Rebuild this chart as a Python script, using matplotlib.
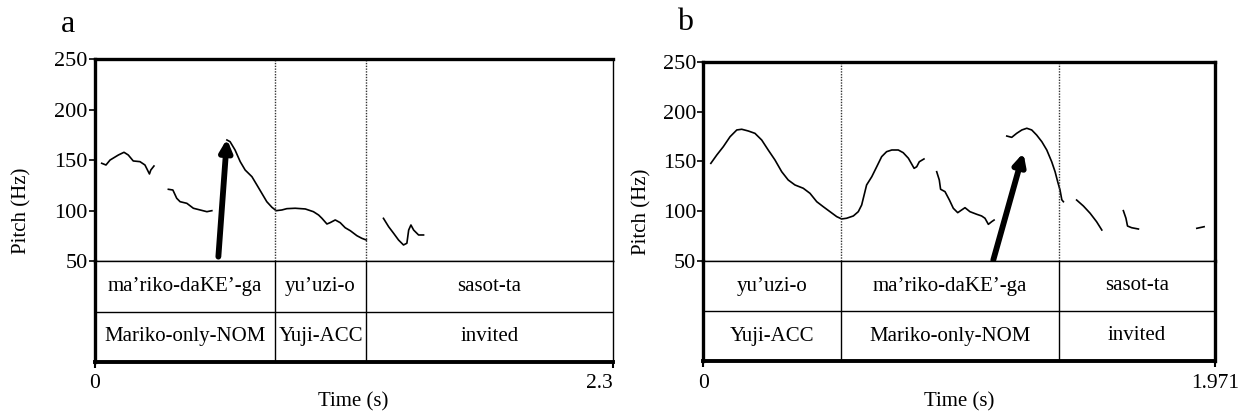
import matplotlib.pyplot as plt

plt.rcParams['font.family'] = ['Liberation Serif', 'DejaVu Serif']

W, H = 1246, 418

# ---- panel a ----
a_dur = 2.3
a_bounds = [0, 0.801, 1.206, 2.3]
a_words = ['ma’riko-daKE’-ga', 'yu’uzi-o', 'sasot-ta']
a_gloss = ['Mariko-only-NOM', 'Yuji-ACC', 'invited']
a_time = [
    [0.032, 0.051, 0.069, 0.106, 0.131, 0.150, 0.172, 0.202, 0.224, 0.244, 0.250, 0.264],
    [0.328, 0.348, 0.365, 0.380, 0.410, 0.439, 0.469, 0.499, 0.521],
    [0.588, 0.602, 0.624, 0.647, 0.669, 0.699, 0.721, 0.743, 0.765, 0.788, 0.807, 0.832,
     0.854, 0.891, 0.936, 0.972, 0.995, 1.010, 1.032, 1.046, 1.069, 1.091, 1.113, 1.136,
     1.165, 1.187, 1.207],
    [1.283, 1.306, 1.328, 1.350, 1.372, 1.387, 1.395, 1.405, 1.417, 1.439, 1.461],
]
a_pitch = [
    [146.9, 145.2, 150.1, 155.1, 157.8, 155.1, 149.2, 148.5, 145.2, 136.3, 140.2, 144.2],
    [121.1, 120.4, 112.2, 108.8, 107.2, 102.3, 100.6, 98.9, 99.9],
    [170.0, 168.3, 160.1, 148.5, 140.2, 133.6, 125.4, 117.1, 108.8, 103.2, 99.9, 100.6,
     101.9, 102.3, 101.6, 98.9, 95.6, 92.3, 86.7, 88.0, 90.7, 88.0, 83.0, 80.0,
     75.1, 72.5, 70.8],
    [92.3, 84.0, 77.5, 70.8, 65.9, 67.6, 80.7, 85.7, 80.7, 75.8, 75.8],
]
a_arrow = [(0.550, 54.3), (0.588, 171.0)]

# ---- panel b ----
b_dur = 1.971
b_bounds = [0, 0.529, 1.369, 1.971]
b_words = ['yu’uzi-o', 'ma’riko-daKE’-ga', 'sasot-ta']
b_gloss = ['Yuji-ACC', 'Mariko-only-NOM', 'invited']
b_time = [
    [0.029, 0.052, 0.077, 0.103, 0.129, 0.148, 0.173, 0.199, 0.225, 0.250, 0.276, 0.302,
     0.327, 0.353, 0.385, 0.411, 0.437, 0.462, 0.488, 0.514, 0.533, 0.552, 0.578, 0.597,
     0.610, 0.629, 0.649, 0.668, 0.687, 0.706, 0.726, 0.751, 0.770, 0.790, 0.812, 0.822,
     0.832, 0.850],
    [0.899, 0.909, 0.914, 0.931, 0.948, 0.963, 0.980, 0.995, 1.008, 1.027, 1.053, 1.072,
     1.085, 1.098, 1.111, 1.120],
    [1.169, 1.188, 1.207, 1.227, 1.246, 1.265, 1.284, 1.304, 1.323, 1.342, 1.355, 1.365,
     1.374, 1.381, 1.387],
    [1.438, 1.464, 1.490, 1.515, 1.535],
    [1.618, 1.628, 1.634, 1.650, 1.676],
    [1.901, 1.929],
]
b_pitch = [
    [148.0, 156.4, 164.7, 174.7, 181.5, 182.2, 180.5, 178.1, 171.4, 161.4, 151.4, 139.6,
     131.3, 126.3, 123.0, 117.9, 109.5, 104.5, 99.5, 94.5, 92.2, 92.9, 95.2, 99.5,
     106.2, 126.3, 134.6, 144.6, 154.7, 159.7, 161.4, 161.4, 158.7, 153.1, 143.0, 144.6,
     149.6, 152.4],
    [139.6, 131.3, 122.0, 119.6, 111.2, 102.9, 98.5, 101.2, 103.5, 99.5, 96.9, 95.2,
     92.9, 86.8, 89.5, 91.1],
    [175.4, 174.1, 178.1, 181.5, 183.2, 181.5, 176.4, 169.7, 161.4, 149.6, 139.6, 129.6,
     121.3, 111.4, 109.5],
    [111.2, 105.2, 97.9, 89.4, 81.1],
    [100.5, 92.9, 85.1, 83.4, 82.1],
    [82.8, 84.4],
]
b_arrow = [(1.117, 51.0), (1.233, 158.5)]


def box(x0, y0, x1, y1):
    # pixel box -> figure fraction rect
    return [x0 / W, 1 - y1 / H, (x1 - x0) / W, (y1 - y0) / H]


def draw_panel(fig, x0, x1, ytop, y50, ybot, dur, bounds, words, gloss,
               times, pitches, arrow, right_lw, label, label_xy, ylab_x, end_ha):
    ax = fig.add_axes(box(x0, ytop, x1, y50))
    tier = fig.add_axes(box(x0, y50, x1, ybot))

    for t, p in zip(times, pitches):
        ax.plot(t, p, color='black', lw=1.2)
    for b in bounds[1:-1]:
        ax.axvline(b, color='#333333', lw=1.0, ls=(0, (1, 1)))
    ax.annotate('', xy=arrow[1], xytext=arrow[0],
                arrowprops=dict(arrowstyle='-|>,head_length=0.7,head_width=0.35',
                                lw=4.2, color='black', shrinkA=0, shrinkB=0))

    ax.set_xlim(0, dur)
    ax.set_ylim(50, 250)
    ax.set_yticks([50, 100, 150, 200, 250])
    ax.set_xticks([])
    ax.tick_params(axis='y', direction='out', length=4.5, width=1.2,
                   labelsize=16, pad=0.5)
    ax.spines['left'].set_linewidth(2.4)
    ax.spines['top'].set_linewidth(2.4)
    ax.spines['right'].set_linewidth(right_lw)
    ax.spines['bottom'].set_linewidth(1.0)

    tier.set_xlim(0, dur)
    tier.set_ylim(0, 2)
    tier.axhline(1, color='black', lw=1.0)
    for b in bounds[1:-1]:
        tier.axvline(b, color='black', lw=1.0)
    for i in range(len(words)):
        mid = (bounds[i] + bounds[i + 1]) / 2
        tier.text(mid, 1.5, words[i], ha='center', va='center', fontsize=15)
        tier.text(mid, 0.5, gloss[i], ha='center', va='center', fontsize=15)
    tier.set_yticks([])
    tier.set_xticks([0, dur])
    tier.set_xticklabels(['0', str(dur)])
    tier.get_xticklabels()[-1].set_ha(end_ha)
    tier.tick_params(axis='x', direction='out', length=4, width=1.5,
                     labelsize=15.5, pad=5)
    tier.spines['left'].set_linewidth(2.4)
    tier.spines['bottom'].set_linewidth(2.8)
    tier.spines['top'].set_linewidth(1.0)
    tier.spines['right'].set_linewidth(right_lw)

    fig.text((x0 + x1) / 2 / W, 1 - 402 / H, 'Time (s)', ha='center', va='center',
             fontsize=15)
    fig.text(ylab_x / W, 1 - (ytop + ybot) / 2 / H, 'Pitch (Hz)', rotation=90,
             ha='center', va='center', fontsize=15)
    fig.text(label_xy[0] / W, 1 - label_xy[1] / H, label, ha='center', va='center',
             fontsize=23)


fig = plt.figure(figsize=(W / 100, H / 100), dpi=100)

draw_panel(fig, 94.5, 612.5, 59.3, 261, 362, a_dur, a_bounds, a_words, a_gloss,
           a_time, a_pitch, a_arrow, 1.0, 'a', (68, 25), 22, 'right')
draw_panel(fig, 703.3, 1215, 61.7, 261, 361, b_dur, b_bounds, b_words, b_gloss,
           b_time, b_pitch, b_arrow, 2.4, 'b', (685, 23), 642, 'center')

fig.savefig('out.png', dpi=100)
